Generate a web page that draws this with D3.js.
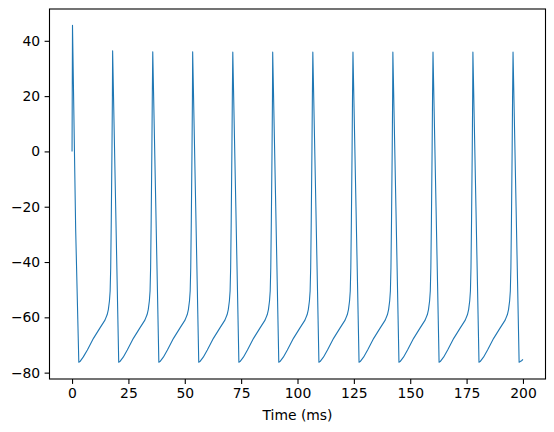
<!DOCTYPE html>
<html>
<head>
<meta charset="utf-8">
<script src="https://cdn.jsdelivr.net/npm/d3@7"></script>
<style>
  html, body { margin: 0; padding: 0; background: #fff; }
  svg { display: block; }
  .tick text { font-family: "DejaVu Sans", sans-serif; font-size: 13.9px; fill: #000; }
  .tick line { stroke: #000; stroke-width: 1.1; }
</style>
</head>
<body>
<div id="chart"></div>
<script>
// membrane potential trace (time in ms, voltage in mV)
const timeMs = [
  0, 0.2, 1.6, 3.0, 3.5, 5.0, 6.8, 9.5, 12.4, 14.6, 15.6, 16.1, 16.6, 16.9, 17.15, 17.4, 17.7, 17.9,
  18.0, 19.35, 20.7, 21.2, 22.7, 24.5, 27.2, 30.1, 32.3, 33.3, 33.8, 34.3, 34.6, 34.85, 35.1, 35.4, 35.6,
  35.8, 37.15, 38.5, 39.0, 40.5, 42.3, 45.0, 47.9, 50.1, 51.1, 51.6, 52.1, 52.4, 52.65, 52.9, 53.2, 53.4,
  53.5, 54.85, 56.2, 56.7, 58.2, 60.0, 62.7, 65.6, 67.8, 68.8, 69.3, 69.8, 70.1, 70.35, 70.6, 70.9, 71.1,
  71.3, 72.65, 74.0, 74.5, 76.0, 77.8, 80.5, 83.4, 85.6, 86.6, 87.1, 87.6, 87.9, 88.15, 88.4, 88.7, 88.9,
  89.0, 90.35, 91.7, 92.2, 93.7, 95.5, 98.2, 101.1, 103.3, 104.3, 104.8, 105.3, 105.6, 105.85, 106.1, 106.4, 106.6,
  106.8, 108.15, 109.5, 110.0, 111.5, 113.3, 116.0, 118.9, 121.1, 122.1, 122.6, 123.1, 123.4, 123.65, 123.9, 124.2, 124.4,
  124.6, 125.95, 127.3, 127.8, 129.3, 131.1, 133.8, 136.7, 138.9, 139.9, 140.4, 140.9, 141.2, 141.45, 141.7, 142.0, 142.2,
  142.3, 143.65, 145.0, 145.5, 147.0, 148.8, 151.5, 154.4, 156.6, 157.6, 158.1, 158.6, 158.9, 159.15, 159.4, 159.7, 159.9,
  160.1, 161.45, 162.8, 163.3, 164.8, 166.6, 169.3, 172.2, 174.4, 175.4, 175.9, 176.4, 176.7, 176.95, 177.2, 177.5, 177.7,
  177.8, 179.15, 180.5, 181.0, 182.5, 184.3, 187.0, 189.9, 192.1, 193.1, 193.6, 194.1, 194.4, 194.65, 194.9, 195.2, 195.4,
  195.6, 196.95, 198.3, 198.8, 199.4, 200.0
];
const voltageMv = [
  0, 45.6, -28, -76.2, -76.0, -74.3, -71.8, -67.6, -63.8, -61.0, -59.0, -57.2, -54.0, -50.5, -42, -25, 0, 20,
  36.4, -20, -76.2, -76.0, -74.4, -71.8, -67.6, -63.8, -61.0, -59.0, -57.2, -54.0, -50.5, -42, -25, 0, 20,
  36.0, -20, -76.2, -76.0, -74.4, -71.8, -67.6, -63.8, -61.0, -59.0, -57.2, -54.0, -50.5, -42, -25, 0, 20,
  36.0, -20, -76.2, -76.0, -74.4, -71.8, -67.6, -63.8, -61.0, -59.0, -57.2, -54.0, -50.5, -42, -25, 0, 20,
  35.9, -20, -76.2, -76.0, -74.4, -71.8, -67.6, -63.8, -61.0, -59.0, -57.2, -54.0, -50.5, -42, -25, 0, 20,
  35.9, -20, -76.2, -76.0, -74.4, -71.8, -67.6, -63.8, -61.0, -59.0, -57.2, -54.0, -50.5, -42, -25, 0, 20,
  35.9, -20, -76.2, -76.0, -74.4, -71.8, -67.6, -63.8, -61.0, -59.0, -57.2, -54.0, -50.5, -42, -25, 0, 20,
  35.9, -20, -76.2, -76.0, -74.4, -71.8, -67.6, -63.8, -61.0, -59.0, -57.2, -54.0, -50.5, -42, -25, 0, 20,
  35.9, -20, -76.2, -76.0, -74.4, -71.8, -67.6, -63.8, -61.0, -59.0, -57.2, -54.0, -50.5, -42, -25, 0, 20,
  35.9, -20, -76.2, -76.0, -74.4, -71.8, -67.6, -63.8, -61.0, -59.0, -57.2, -54.0, -50.5, -42, -25, 0, 20,
  35.9, -20, -76.2, -76.0, -74.4, -71.8, -67.6, -63.8, -61.0, -59.0, -57.2, -54.0, -50.5, -42, -25, 0, 20,
  35.9, -20, -76.2, -76.0, -75.7, -75.2
];
const xTicks = [0, 25, 50, 75, 100, 125, 150, 175, 200];
const yTicks = [-80, -60, -40, -20, 0, 20, 40];
const xLabel = "Time (ms)";

const width = 554;
const height = 432;
// axes box in pixels
const box = { left: 49.5, right: 545.5, top: 9, bottom: 379 };

const svg = d3.select('#chart')
    .append('svg')
    .attr('width', width)
    .attr('height', height);

const x = d3.scaleLinear().domain([-10, 210]).range([box.left, box.right]);
const y = d3.scaleLinear().domain([-82.3, 51.5]).range([box.bottom, box.top]);

const trace = timeMs.map((t, i) => ({ t: t, v: voltageMv[i] }));

// the trace
svg.append('path')
    .datum(trace)
    .attr('fill', 'none')
    .attr('stroke', '#1f77b4')
    .attr('stroke-width', 1.1)
    .attr('stroke-linejoin', 'round')
    .attr('d', d3.line().x(d => x(d.t)).y(d => y(d.v)));

// axes
const xAxis = svg.append('g')
    .attr('transform', `translate(0,${box.bottom})`)
    .call(d3.axisBottom(x).tickValues(xTicks).tickSize(4.9).tickPadding(4.4).tickSizeOuter(0));

const yAxis = svg.append('g')
    .attr('transform', `translate(${box.left},0)`)
    .call(d3.axisLeft(y).tickValues(yTicks).tickSize(4.9).tickPadding(4.4).tickSizeOuter(0));

xAxis.select('.domain').remove();
yAxis.select('.domain').remove();

// frame
svg.append('rect')
    .attr('x', box.left)
    .attr('y', box.top)
    .attr('width', box.right - box.left)
    .attr('height', box.bottom - box.top)
    .attr('fill', 'none')
    .attr('stroke', '#000')
    .attr('stroke-width', 1.1);

svg.append('text')
    .attr('x', (box.left + box.right) / 2)
    .attr('y', 419.5)
    .attr('text-anchor', 'middle')
    .style('font-family', '"DejaVu Sans", sans-serif')
    .style('font-size', '13.9px')
    .text(xLabel);
</script>
</body>
</html>
